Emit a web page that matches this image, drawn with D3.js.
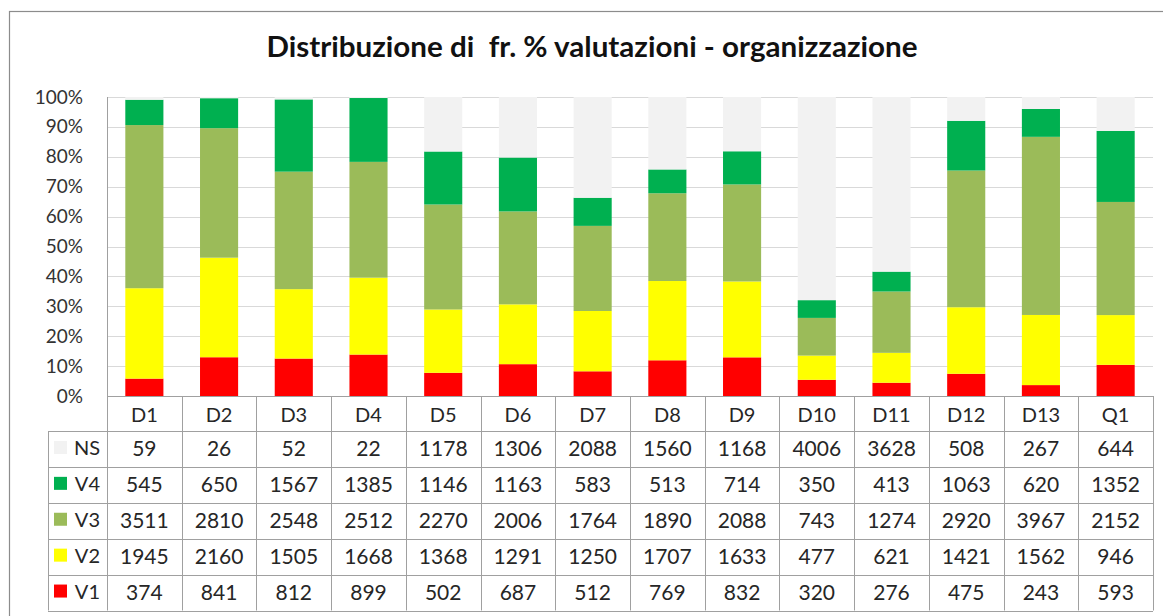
<!DOCTYPE html>
<html lang="it">
<head>
<meta charset="utf-8">
<title>Distribuzione di fr. % valutazioni - organizzazione</title>
<script src="https://d3js.org/d3.v7.min.js"></script>
<style>
  html, body { margin: 0; padding: 0; background: #fff; overflow: hidden; }
  svg { display: block; font-family: Lato, "Open Sans", sans-serif; }
</style>
</head>
<body>
<div id="chart"></div>
<script>
// categories and counts
var categories = ["D1", "D2", "D3", "D4", "D5", "D6", "D7", "D8", "D9", "D10", "D11", "D12", "D13", "Q1"];
var NS = [59, 26, 52, 22, 1178, 1306, 2088, 1560, 1168, 4006, 3628, 508, 267, 644];
var V4 = [545, 650, 1567, 1385, 1146, 1163, 583, 513, 714, 350, 413, 1063, 620, 1352];
var V3 = [3511, 2810, 2548, 2512, 2270, 2006, 1764, 1890, 2088, 743, 1274, 2920, 3967, 2152];
var V2 = [1945, 2160, 1505, 1668, 1368, 1291, 1250, 1707, 1633, 477, 621, 1421, 1562, 946];
var V1 = [374, 841, 812, 899, 502, 687, 512, 769, 832, 320, 276, 475, 243, 593];
var yTicks = [0, 0.1, 0.2, 0.3, 0.4, 0.5, 0.6, 0.7, 0.8, 0.9, 1];

// stacking order bottom -> top, table order top -> bottom
var stackKeys = ["V1", "V2", "V3", "V4", "NS"];
var tableKeys = ["NS", "V4", "V3", "V2", "V1"];
var series = { NS: NS, V4: V4, V3: V3, V2: V2, V1: V1 };
var colors = { NS: "#F2F2F2", V4: "#00B050", V3: "#9BBB59", V2: "#FFFF00", V1: "#FF0000" };

var W = 1163, H = 616;
var plot = { left: 107, right: 1153, top: 97, bottom: 396 };
var tableLeft = 48, tableTop = 431, rowH = 35.9;
var textColor = "#262626";

var svg = d3.select("#chart").append("svg")
    .attr("width", W)
    .attr("height", H);

// outer chart frame (right and bottom edges fall outside the picture)
svg.append("rect")
    .attr("x", 9.5).attr("y", 11.5)
    .attr("width", 1300).attr("height", 800)
    .attr("fill", "#fff")
    .attr("stroke", "#8C8C8C")
    .attr("stroke-width", 1.2);

// title (double space kept as in the original)
svg.append("text")
    .attr("x", 592).attr("y", 57)
    .attr("text-anchor", "middle")
    .attr("font-size", 28)
    .attr("font-weight", "bold")
    .attr("fill", "#111")
    .attr("textLength", 651)
    .attr("lengthAdjust", "spacingAndGlyphs")
    .text("Distribuzione di \u00a0fr. % valutazioni - organizzazione");

// rows for the stack
var rows = categories.map(function(c, i) {
  var r = { cat: c };
  stackKeys.forEach(function(k) { r[k] = series[k][i]; });
  return r;
});
var stacked = d3.stack().keys(stackKeys).offset(d3.stackOffsetExpand)(rows);

// scales
var xCol = d3.scaleBand().domain(categories).range([plot.left, plot.right]).padding(0);
var xBar = d3.scaleBand().domain(categories).range([plot.left, plot.right])
    .paddingInner(0.49).paddingOuter(0.245);
var y = d3.scaleLinear().domain([0, 1]).range([plot.bottom, plot.top]);

// gridlines
svg.append("g")
  .selectAll("line")
  .data(yTicks.slice(1))
  .enter().append("line")
    .attr("x1", plot.left).attr("x2", plot.right)
    .attr("y1", function(d) { return Math.round(y(d)) + 0.5; })
    .attr("y2", function(d) { return Math.round(y(d)) + 0.5; })
    .attr("stroke", "#D9D9D9")
    .attr("stroke-width", 1);

// bars
svg.append("g")
  .selectAll("g")
  .data(stacked)
  .enter().append("g")
    .attr("fill", function(d) { return colors[d.key]; })
  .selectAll("rect")
  .data(function(d) { return d; })
  .enter().append("rect")
    .attr("x", function(d) { return xBar(d.data.cat); })
    .attr("width", xBar.bandwidth())
    .attr("y", function(d) { return y(d[1]); })
    .attr("height", function(d) { return y(d[0]) - y(d[1]); });

// y axis labels
var yAxis = d3.axisLeft(y)
    .tickValues(yTicks)
    .tickFormat(d3.format(".0%"))
    .tickSize(0)
    .tickPadding(24);
var ya = svg.append("g")
    .attr("transform", "translate(" + plot.left + ",0)")
    .call(yAxis);
ya.select(".domain").remove();
ya.selectAll("text")
    .attr("font-family", "Lato, 'Open Sans', sans-serif")
    .attr("font-size", 19)
    .attr("fill", "#333");

var lineColor = "#A0A0A0";

// category row: axis line, left edge and column separators
svg.append("line")
    .attr("x1", plot.left).attr("x2", plot.right)
    .attr("y1", plot.bottom + 0.5).attr("y2", plot.bottom + 0.5)
    .attr("stroke", lineColor);
svg.append("line")
    .attr("x1", plot.left + 0.5).attr("x2", plot.left + 0.5)
    .attr("y1", plot.top).attr("y2", tableTop + rowH * tableKeys.length)
    .attr("stroke", lineColor);
svg.append("g")
  .selectAll("line")
  .data(categories)
  .enter().append("line")
    .attr("x1", function(d) { return Math.round(xCol(d) + xCol.bandwidth()) + 0.5; })
    .attr("x2", function(d) { return Math.round(xCol(d) + xCol.bandwidth()) + 0.5; })
    .attr("y1", plot.bottom)
    .attr("y2", tableTop)
    .attr("stroke", lineColor);
svg.append("g")
  .selectAll("text")
  .data(categories)
  .enter().append("text")
    .attr("x", function(d) { return xCol(d) + xCol.bandwidth() / 2; })
    .attr("y", (plot.bottom + tableTop) / 2 + 1)
    .attr("dy", "0.35em")
    .attr("text-anchor", "middle")
    .attr("font-size", 20)
    .attr("fill", textColor)
    .text(function(d) { return d; });

// data table
var table = svg.append("g");
var tableBottom = tableTop + rowH * tableKeys.length;

// horizontal lines
table.selectAll("line.h")
  .data(d3.range(tableKeys.length + 1))
  .enter().append("line")
    .attr("class", "h")
    .attr("x1", tableLeft).attr("x2", plot.right)
    .attr("y1", function(i) { return Math.round(tableTop + i * rowH) + 0.5; })
    .attr("y2", function(i) { return Math.round(tableTop + i * rowH) + 0.5; })
    .attr("stroke", lineColor);
// vertical lines
var vx = [tableLeft].concat(categories.map(function(d) { return xCol(d) + xCol.bandwidth(); }));
table.selectAll("line.v")
  .data(vx)
  .enter().append("line")
    .attr("class", "v")
    .attr("x1", function(d) { return Math.round(d) + 0.5; })
    .attr("x2", function(d) { return Math.round(d) + 0.5; })
    .attr("y1", tableTop).attr("y2", tableBottom)
    .attr("stroke", lineColor);

// legend cells
var legendRows = table.selectAll("g.row")
  .data(tableKeys)
  .enter().append("g")
    .attr("class", "row")
    .attr("transform", function(d, i) { return "translate(0," + (tableTop + i * rowH) + ")"; });
legendRows.append("rect")
    .attr("x", 54).attr("y", rowH / 2 - 8)
    .attr("width", 13).attr("height", 13)
    .attr("fill", function(d) { return colors[d]; });
legendRows.append("text")
    .attr("x", 100)
    .attr("y", rowH / 2 - 1)
    .attr("dy", "0.35em")
    .attr("text-anchor", "end")
    .attr("font-size", 20)
    .attr("fill", textColor)
    .text(function(d) { return d; });

// values
legendRows.selectAll("text.val")
  .data(function(k) { return series[k].map(function(v, i) { return { v: v, cat: categories[i] }; }); })
  .enter().append("text")
    .attr("class", "val")
    .attr("x", function(d) { return xCol(d.cat) + xCol.bandwidth() / 2; })
    .attr("y", rowH / 2)
    .attr("dy", "0.35em")
    .attr("text-anchor", "middle")
    .attr("font-size", 21)
    .attr("fill", textColor)
    .text(function(d) { return d.v; });
</script>
</body>
</html>
